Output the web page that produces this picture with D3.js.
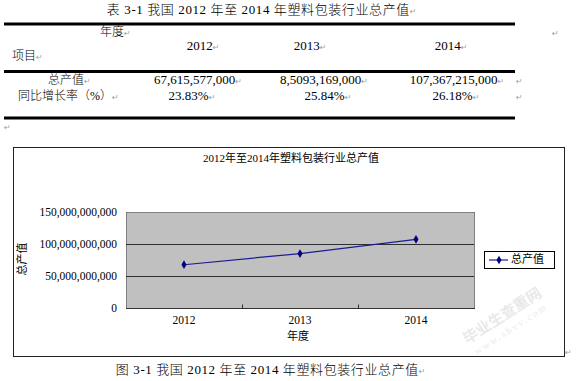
<!DOCTYPE html>
<html>
<head>
<meta charset="utf-8">
<script src="https://cdn.jsdelivr.net/npm/d3@7"></script>
<style>
  body { margin: 0; background: #fff; }
  svg { display: block; }
  text { font-family: 'Liberation Serif', 'Noto Sans CJK SC', serif; fill: #000; }
  .thin { font-weight: 300; }
  .mark { font-family: 'DejaVu Sans'; fill: #a0a0a0; font-size: 8px; font-weight: normal; }
</style>
</head>
<body>
<svg id="page"></svg>
<script>
// data
const years = ['2012', '2013', '2014']
const output = [67615577000, 85093169000, 107367215000]
const outputText = ['67,615,577,000', '8,5093,169,000', '107,367,215,000']
const growthText = ['23.83%', '25.84%', '26.18%']
const yTicks = [0, 50000000000, 100000000000, 150000000000]

const W = 581, H = 381
const svg = d3.select('#page').attr('width', W).attr('height', H)

// small helper: text + gray paragraph mark
function para(g, x, y, str, size, anchor) {
  const t = g.append('text').attr('x', x).attr('y', y)
    .attr('class', 'thin')
    .attr('text-anchor', anchor || 'start')
    .attr('dominant-baseline', 'middle')
    .style('font-size', size + 'px')
  t.append('tspan').text(str)
  t.append('tspan').attr('class', 'mark').text('↵')
  return t
}

// ---- table ----
const tbl = svg.append('g')
para(tbl, 262, 11, '表 3-1  我国 2012 年至 2014 年塑料包装行业总产值', 13, 'middle')
  .style('letter-spacing', '0.6px')

tbl.selectAll('line.rule')
  .data([24, 71.5, 118])
  .enter()
  .append('line')
  .attr('x1', 4).attr('x2', 515)
  .attr('y1', d => d).attr('y2', d => d)
  .attr('stroke', '#000').attr('stroke-width', 3)

const headX = d3.scaleOrdinal().domain(years).range([203, 310, 451])
const valX = d3.scaleOrdinal().domain(years).range([198, 324, 457])
const pctX = d3.scaleOrdinal().domain(years).range([192, 328, 456])

para(tbl, 100, 33, '年度', 12)
para(tbl, 12, 57, '项目', 12)
tbl.append('text').attr('class', 'mark').attr('x', 552).attr('y', 33).attr('dominant-baseline', 'middle').text('↵')

tbl.selectAll('text.year')
  .data(years)
  .enter()
  .append('text')
  .attr('class', 'year')
  .attr('x', d => headX(d)).attr('y', 47)
  .attr('text-anchor', 'middle').attr('dominant-baseline', 'middle')
  .style('font-size', '13px')
  .each(function (d) {
    d3.select(this).append('tspan').text(d)
    d3.select(this).append('tspan').attr('class', 'mark').text('↵')
  })

para(tbl, 48, 81, '总产值', 12)
para(tbl, 18, 97, '同比增长率（%）', 12)

tbl.selectAll('text.val')
  .data(outputText)
  .enter()
  .append('text')
  .attr('x', (d, i) => valX(years[i])).attr('y', 81)
  .attr('text-anchor', 'middle').attr('dominant-baseline', 'middle')
  .style('font-size', '13px')
  .each(function (d) {
    d3.select(this).append('tspan').text(d)
    d3.select(this).append('tspan').attr('class', 'mark').text('↵')
  })

tbl.selectAll('text.pct')
  .data(growthText)
  .enter()
  .append('text')
  .attr('x', (d, i) => pctX(years[i])).attr('y', 97)
  .attr('text-anchor', 'middle').attr('dominant-baseline', 'middle')
  .style('font-size', '13px')
  .each(function (d) {
    d3.select(this).append('tspan').text(d)
    d3.select(this).append('tspan').attr('class', 'mark').text('↵')
  })

tbl.selectAll('text.rowend')
  .data([81, 97])
  .enter()
  .append('text')
  .attr('class', 'mark').attr('x', 516).attr('y', d => d)
  .attr('dominant-baseline', 'middle').text('↵')

tbl.append('text').attr('class', 'mark').attr('x', 4).attr('y', 127).attr('dominant-baseline', 'middle').text('↵')

// ---- chart frame ----
svg.append('rect')
  .attr('x', 13.5).attr('y', 147.5).attr('width', 551).attr('height', 209)
  .attr('fill', '#fff').attr('stroke', '#222').attr('stroke-width', 1)

svg.append('text')
  .attr('x', 291).attr('y', 159)
  .attr('text-anchor', 'middle').attr('dominant-baseline', 'middle')
  .style('font-size', '11px')
  .text('2012年至2014年塑料包装行业总产值')

// plot area
const pLeft = 126, pTop = 212, pRight = 474, pBottom = 308

const x = d3.scaleBand().domain(years).range([pLeft, pRight])
const y = d3.scaleLinear().domain([0, 150000000000]).range([pBottom, pTop])

const plot = svg.append('g')

plot.append('rect')
  .attr('x', pLeft + 0.5).attr('y', pTop + 0.5)
  .attr('width', pRight - pLeft).attr('height', pBottom - pTop)
  .attr('fill', '#c0c0c0').attr('stroke', '#808080')

plot.selectAll('line.grid')
  .data(yTicks.filter(d => d > 0 && d < 150000000000))
  .enter()
  .append('line')
  .attr('x1', pLeft).attr('x2', pRight)
  .attr('y1', d => Math.round(y(d)) + 0.5).attr('y2', d => Math.round(y(d)) + 0.5)
  .attr('stroke', '#303030').attr('stroke-width', 1.2)

// y axis labels
const yAxis = d3.axisLeft(y)
  .tickValues(yTicks)
  .tickSize(0)
  .tickPadding(9)
  .tickFormat(d3.format(','))
const gy = svg.append('g').attr('transform', `translate(${pLeft},0)`).call(yAxis)
gy.select('.domain').remove()
gy.selectAll('text').style('font-size', '11.5px').style('font-family', 'Liberation Serif')

// x axis
const gx = svg.append('g').attr('transform', `translate(0,${pBottom + 0.5})`)
gx.append('line').attr('x1', pLeft).attr('x2', pRight + 1).attr('stroke', '#333')
gx.selectAll('line.tick')
  .data(years.slice(1))
  .enter()
  .append('line')
  .attr('x1', d => Math.round(x(d)) + 0.5).attr('x2', d => Math.round(x(d)) + 0.5)
  .attr('y1', 0).attr('y2', -4)
  .attr('stroke', '#333')
gx.selectAll('text')
  .data(years)
  .enter()
  .append('text')
  .attr('x', d => x(d) + x.bandwidth() / 2).attr('y', 13)
  .attr('text-anchor', 'middle').attr('dominant-baseline', 'middle')
  .style('font-size', '11.5px')
  .text(d => d)

svg.append('text')
  .attr('x', 298).attr('y', 337)
  .attr('text-anchor', 'middle').attr('dominant-baseline', 'middle')
  .style('font-size', '11px')
  .text('年度')

svg.append('text')
  .attr('transform', 'translate(23,259) rotate(-90)')
  .attr('text-anchor', 'middle').attr('dominant-baseline', 'middle')
  .style('font-size', '11px')
  .text('总产值')

// series
const pts = years.map((d, i) => [x(d) + x.bandwidth() / 2, y(output[i])])
plot.append('path')
  .attr('d', d3.line()(pts))
  .attr('fill', 'none').attr('stroke', '#1c1c90').attr('stroke-width', 1.2)

const diamond = d3.symbol().type(d3.symbolDiamond).size(22)
plot.selectAll('path.pt')
  .data(pts)
  .enter()
  .append('path')
  .attr('d', diamond)
  .attr('transform', d => `translate(${d[0]},${d[1]})`)
  .attr('fill', '#000080')

// legend
const lg = svg.append('g')
lg.append('rect').attr('x', 484.5).attr('y', 251.5).attr('width', 70).attr('height', 17)
  .attr('fill', '#fff').attr('stroke', '#000')
lg.append('line').attr('x1', 489).attr('x2', 508).attr('y1', 260).attr('y2', 260)
  .attr('stroke', '#1c1c90').attr('stroke-width', 1.2)
lg.append('path').attr('d', diamond).attr('transform', 'translate(499,260)').attr('fill', '#000080')
lg.append('text').attr('x', 511).attr('y', 260).attr('dominant-baseline', 'middle')
  .style('font-size', '11px').text('总产值')

svg.append('text').attr('class', 'mark').attr('x', 565).attr('y', 352).attr('dominant-baseline', 'middle').text('↵')

// watermark
const wm = svg.append('g').attr('transform', 'translate(505,320) rotate(-33)').style('opacity', 0.25)
wm.append('text').attr('text-anchor', 'middle').attr('y', 0)
  .style('font-size', '15px').style('font-weight', 'bold').style('fill', '#aaa').text('毕业生查重网')
wm.append('text').attr('text-anchor', 'middle').attr('y', 14)
  .style('font-size', '10px').style('fill', '#aaa').style('letter-spacing', '2px').text('www.sbvv.com')

// caption
para(svg, 271, 371, '图 3-1  我国 2012 年至 2014 年塑料包装行业总产值', 13, 'middle')
  .style('letter-spacing', '0.6px')
</script>
</body>
</html>
